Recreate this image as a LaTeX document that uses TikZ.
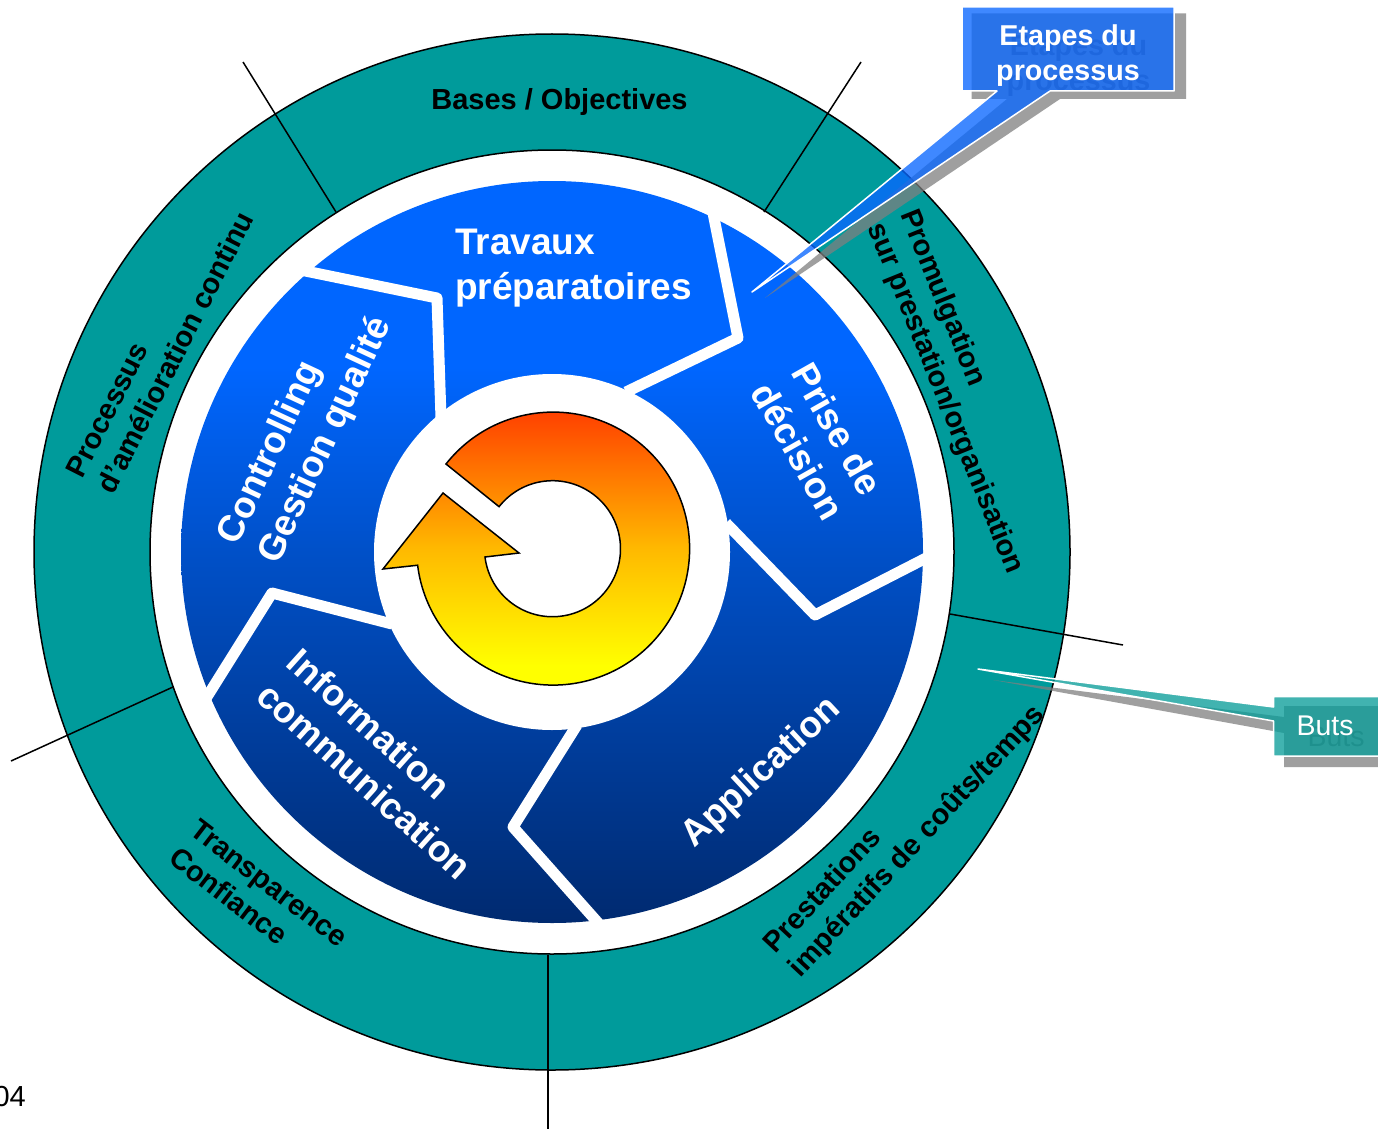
\documentclass[tikz,border=0pt]{standalone}
\usepackage{fontspec}
\setmainfont{Liberation Sans}
\definecolor{ringteal}{RGB}{0,155,155}
\definecolor{shadowgray}{RGB}{127,127,127}
\definecolor{calloutblue}{RGB}{9,103,255}
\definecolor{calloutteal}{RGB}{8,157,153}
\definecolor{shadowtext}{RGB}{105,105,105}
\definecolor{bluetop}{RGB}{0,102,255}
\definecolor{bluemid}{RGB}{0,80,200}
\definecolor{bluelow}{RGB}{0,42,112}
\definecolor{firelow}{RGB}{255,255,0}
\definecolor{firemid}{RGB}{255,185,0}
\definecolor{firetop}{RGB}{255,50,0}
\pgfdeclareverticalshading{bluedisc}{100bp}{
  color(0bp)=(bluelow);
  color(25bp)=(bluelow);
  color(50bp)=(bluemid);
  color(62.5bp)=(bluetop);
  color(100bp)=(bluetop)}
\pgfdeclareverticalshading{firering}{100bp}{
  color(0bp)=(firelow);
  color(31bp)=(firelow);
  color(50bp)=(firemid);
  color(75bp)=(firetop);
  color(100bp)=(firetop)}
\tikzset{
  ringtext/.style={font=\fontsize{29}{35}\selectfont\bfseries,text=black,inner sep=0pt,align=left},
  sectortext/.style={font=\fontsize{37}{45}\selectfont\bfseries,text=white,inner sep=0pt,align=left},
  calloutbold/.style={font=\fontsize{28.7}{35}\selectfont\bfseries,inner sep=0pt,align=center},
  calloutplain/.style={font=\fontsize{28.5}{34}\selectfont,inner sep=0pt,align=center},
  separator/.style={draw=white,line width=11pt,line join=round,line cap=butt},
  radial/.style={draw=black,line width=1.5pt},
  shadowshape/.style={fill=shadowgray,fill opacity=.745},
}
\begin{document}
\begin{tikzpicture}[x=1pt,y=-1pt]
\useasboundingbox (0,0) rectangle (1378,1129);
\fill[white] (0,0) rectangle (1378,1129);
\coordinate (C) at (552,552);
% outer ring
\path[fill=ringteal,draw=black,line width=1.5pt,even odd rule]
  (C) circle[radius=518] (C) circle[radius=402];
% blue disc
\shade[shading=bluedisc] (C) circle[radius=371];
% separators
\draw[separator] (298,269.5) -- (437,298) -- (441,418);
\draw[separator] (712,208) -- (738,338) -- (626,392);
\draw[separator] (726,523) -- (815,615) -- (932,555);
\draw[separator] (577,725) -- (513,827) -- (600,925);
\draw[separator] (392,624) -- (272,593) -- (205,700);
\fill[white] (C) circle[radius=178];
% circular arrow
\shade[shading=firering,draw=black,line width=1.5pt,line join=miter]
  (446,464) arc[start angle=218.3,end angle=533,radius=136.5]
  -- (383,569) -- (443,493) -- (519,553) -- (485,557)
  arc[start angle=533,end angle=218.2,radius=68] -- cycle;
% dividers
\coordinate (d1a) at (243,62);   \coordinate (d1b) at (336,212);
\coordinate (d2a) at (861,62);   \coordinate (d2b) at (764,212);
\coordinate (d3a) at (1123,645); \coordinate (d3b) at (950,614);
\coordinate (d4a) at (548,1129); \coordinate (d4b) at (548,955);
\coordinate (d5a) at (11,761);   \coordinate (d5b) at (173,687);
\draw[radial] (d1a) -- (d1b);
\draw[radial] (d2a) -- (d2b);
\draw[radial] (d3a) -- (d3b);
\draw[radial] (d4a) -- (d4b);
\draw[radial] (d5a) -- (d5b);
% ring labels
\node[ringtext] (bases) at (559.5,102) {Bases / Objectives};
\node[ringtext,rotate=63] (processus) at (160,344.5) {Processus\\d’amélioration continu};
\node[ringtext,rotate=-37.5] (transparence) at (258.5,897) {Transparence\\Confiance};
\node[ringtext,rotate=47] (prestations) at (905,830) {Prestations\\impératifs de coûts/temps};
\node[ringtext,rotate=-68] (promulgation) at (961,392) {Promulgation\\sur prestation/organisation};
% sector labels
\node[sectortext,anchor=west] (travaux) at (455,268) {Travaux\\préparatoires};
\node[sectortext,rotate=-60.5,align=center] (prise) at (818,440) {Prise de\\décision};
\node[sectortext,rotate=43] (application) at (762,773) {Application};
\node[sectortext,rotate=65] (controlling) at (306,431) {Controlling\\Gestion qualité};
\node[sectortext,rotate=-42] (information) at (380,764) {Information\\communication};
\node[font=\fontsize{29}{35}\selectfont,inner sep=0pt,anchor=east] (page) at (26,1097) {2004};
% callout: Etapes du processus
\path[shadowshape] (971.5,13.5) -- (1186,13.5) -- (1186,99) -- (1060,99) -- (765,298) -- (1007,99) -- (971.5,99) -- cycle;
\node[calloutbold,text=shadowtext] (etapesshadow) at (1078.5,65.5) {Etapes du\\processus};
\path[fill=calloutblue,fill opacity=.78,draw=white,line width=1.5pt,line join=round]
  (962,7) -- (1174,7) -- (1174,91) -- (1050,91) -- (752,292) -- (997,91) -- (962,91) -- cycle;
\node[calloutbold,text=white] (etapes) at (1068,55.5) {Etapes du\\processus};
% callout: Buts
\path[shadowshape] (1378,706) -- (1284,706) -- (1284,717) -- (993,680) -- (1284,733) -- (1284,767) -- (1378,767) -- cycle;
\node[calloutplain,text=shadowtext] (butsshadow) at (1336,737) {Buts};
\path[fill=calloutteal,fill opacity=.77,draw=white,line width=1.5pt,line join=round]
  (1380,696.5) -- (1273.5,696.5) -- (1273.5,707) -- (978,669) -- (1273.5,721) -- (1273.5,756) -- (1380,756) -- cycle;
\node[calloutplain,text=white] (buts) at (1325,726) {Buts};
\end{tikzpicture}
\end{document}
